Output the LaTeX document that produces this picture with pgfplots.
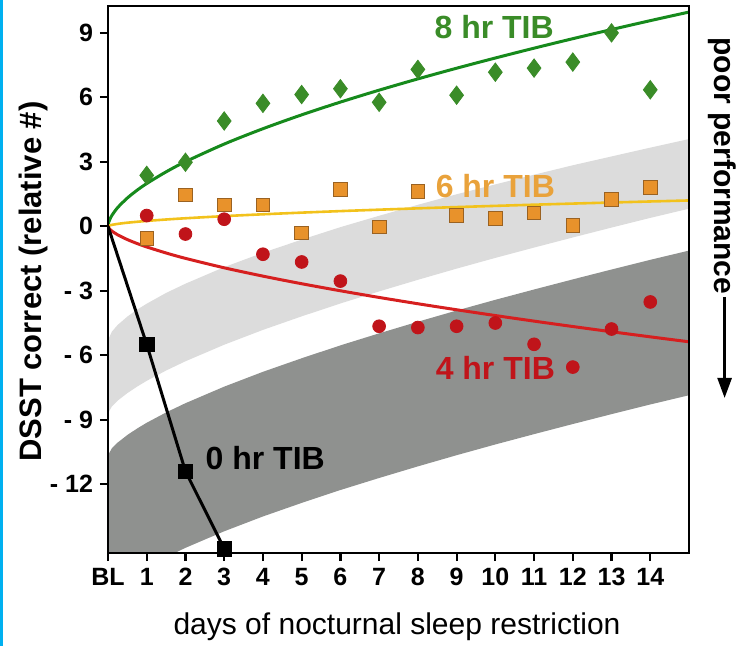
\documentclass[border=0pt]{standalone}
\usepackage{pgfplots}
\pgfplotsset{compat=1.18}
\usepgfplotslibrary{fillbetween}
\usetikzlibrary{arrows.meta}
\usepackage{fontspec}
\setmainfont{Liberation Sans}
\definecolor{lightband}{HTML}{DCDCDC}
\definecolor{darkband}{HTML}{8F918F}
\definecolor{gline}{HTML}{168A1C}
\definecolor{gmark}{HTML}{3A8C28}
\definecolor{yline}{HTML}{F2C21C}
\definecolor{omark}{HTML}{E8922B}
\definecolor{oedge}{HTML}{9A6222}
\definecolor{olabel}{HTML}{E9A23B}
\definecolor{rline}{HTML}{D61F1F}
\definecolor{rmark}{HTML}{C0141A}
\definecolor{cyanstrip}{HTML}{00B0F0}
\begin{document}
\begin{tikzpicture}
\begin{axis}[
  scale only axis, width=290.5pt, height=273.5pt,
  at={(0,0)}, anchor=south west,
  xmin=0, xmax=15, ymin=-15.2, ymax=10.25,
  xtick={0,1,2,3,4,5,6,7,8,9,10,11,12,13,14},
  xticklabels={BL,1,2,3,4,5,6,7,8,9,10,11,12,13,14},
  ytick={-12,-9,-6,-3,0,3,6,9},
  yticklabels={- 12,- 9,- 6,- 3,0,3,6,9},
  tick align=outside, tick pos=left, major tick length=4pt,
  axis line style={line width=1.2pt},
  tick style={line width=1.1pt, black},
  ticklabel style={font=\bfseries\fontsize{12.5}{12.5}\selectfont},
  axis on top,
]
% light band
\addplot[name path=U1, draw=none] coordinates {(0,-5.3)(0.1,-4.9)(0.25,-4.59)(0.5,-4.2)(0.75,-3.88)(1,-3.6)(1.5,-3.1)(2,-2.67)(3,-1.9)(4,-1.23)(5,-0.62)(6,-0.04)(7,0.49)(8,1.0)(9,1.49)(10,1.95)(11,2.4)(12,2.84)(13,3.25)(14,3.66)(15,4.06)};
\addplot[name path=L1, draw=none] coordinates {(0,-8.7)(0.1,-8.38)(0.25,-8.11)(0.5,-7.76)(0.75,-7.46)(1,-7.19)(1.5,-6.71)(2,-6.28)(3,-5.51)(4,-4.82)(5,-4.19)(6,-3.59)(7,-3.03)(8,-2.49)(9,-1.97)(10,-1.47)(11,-0.99)(12,-0.52)(13,-0.06)(14,0.39)(15,0.82)};
\addplot[fill=lightband, draw=none] fill between[of=U1 and L1];
% dark band
\addplot[name path=U2, draw=none] coordinates {(0,-10.65)(0.1,-10.33)(0.25,-10.06)(0.5,-9.71)(0.75,-9.41)(1,-9.14)(1.5,-8.66)(2,-8.23)(3,-7.46)(4,-6.77)(5,-6.14)(6,-5.54)(7,-4.98)(8,-4.44)(9,-3.92)(10,-3.42)(11,-2.94)(12,-2.47)(13,-2.01)(14,-1.56)(15,-1.13)};
\addplot[name path=L2, draw=none] coordinates {(0,-17.38)(0.1,-17.06)(0.25,-16.79)(0.5,-16.44)(0.75,-16.14)(1,-15.87)(1.5,-15.39)(2,-14.96)(3,-14.19)(4,-13.5)(5,-12.87)(6,-12.27)(7,-11.71)(8,-11.17)(9,-10.65)(10,-10.15)(11,-9.67)(12,-9.2)(13,-8.74)(14,-8.29)(15,-7.86)};
\addplot[fill=darkband, draw=none] fill between[of=U2 and L2];
% fitted curves
\addplot[gline, line width=1.5pt, smooth] coordinates {(0,0)(0.02,0.194)(0.05,0.335)(0.1,0.505)(0.25,0.872)(0.5,1.317)(0.75,1.677)(1,1.99)(1.5,2.533)(2,3.006)(3,3.826)(4,4.54)(5,5.185)(6,5.779)(7,6.334)(8,6.858)(9,7.355)(10,7.83)(11,8.288)(12,8.729)(13,9.154)(14,9.568)(15,9.968)};
\addplot[yline, line width=1.3pt, smooth] coordinates {(0,0)(0.05,0.044)(0.1,0.066)(0.25,0.112)(0.5,0.167)(1,0.25)(1.5,0.316)(2,0.374)(3,0.473)(4,0.559)(5,0.636)(6,0.707)(7,0.773)(8,0.835)(9,0.894)(10,0.95)(11,1.005)(12,1.057)(13,1.107)(14,1.155)(15,1.202)};
\addplot[rline, line width=1.5pt, smooth] coordinates {(0,0)(0.02,-0.08)(0.05,-0.143)(0.1,-0.222)(0.25,-0.397)(0.5,-0.618)(0.75,-0.8)(1,-0.96)(1.5,-1.242)(2,-1.492)(3,-1.931)(4,-2.318)(5,-2.672)(6,-3.0)(7,-3.31)(8,-3.603)(9,-3.883)(10,-4.152)(11,-4.412)(12,-4.663)(13,-4.906)(14,-5.143)(15,-5.374)};
% data
\addplot[only marks, mark=diamond*, mark size=4.6pt, gmark, mark options={draw=gmark, fill=gmark}] coordinates {(1,2.37)(2,2.98)(3,4.9)(4,5.72)(5,6.13)(6,6.4)(7,5.77)(8,7.3)(9,6.1)(10,7.17)(11,7.36)(12,7.64)(13,9.0)(14,6.35)};
\addplot[only marks, mark=square*, mark size=3.4pt, mark options={draw=oedge, fill=omark, line width=0.4pt}] coordinates {(1,-0.56)(2,1.47)(3,1.0)(4,1.0)(5,-0.3)(6,1.72)(7,-0.03)(8,1.63)(9,0.51)(10,0.37)(11,0.63)(12,0.05)(13,1.24)(14,1.81)};
\addplot[only marks, mark=*, mark size=3.2pt, mark options={draw=rmark, fill=rmark}] coordinates {(1,0.5)(2,-0.36)(3,0.33)(4,-1.3)(5,-1.66)(6,-2.55)(7,-4.65)(8,-4.71)(9,-4.65)(10,-4.5)(11,-5.49)(12,-6.55)(13,-4.78)(14,-3.52)};
\addplot[black, line width=1.5pt] coordinates {(0,0)(1,-5.5)(2,-11.4)(3,-15.0)};
\addplot[only marks, mark=square*, mark size=3.6pt, mark options={fill=black, draw=black}] coordinates {(1,-5.5)(2,-11.4)(3,-15.0)};
% labels
\node[text=gmark, font=\bfseries\fontsize{16}{16}\selectfont] at (axis cs:9.97,9.26) {8 hr TIB};
\node[text=olabel, font=\bfseries\fontsize{16}{16}\selectfont] at (axis cs:10.0,1.86) {6 hr TIB};
\node[text=rmark, font=\bfseries\fontsize{16}{16}\selectfont] at (axis cs:10.0,-6.6) {4 hr TIB};
\node[text=black, font=\bfseries\fontsize{16}{16}\selectfont] at (axis cs:4.06,-10.8) {0 hr TIB};
\end{axis}
\node[rotate=90, font=\bfseries\fontsize{15.5}{15.5}\selectfont] at (-37.5pt,135.75pt) {DSST correct (relative \#)};
\node[font=\fontsize{15}{15}\selectfont] at (144.5pt,-37pt) {days of nocturnal sleep restriction};
\node[rotate=-90, font=\bfseries\fontsize{15}{15}\selectfont] at (307pt,193.5pt) {poor performance};
\draw[line width=1.3pt, -{Triangle[width=7pt,length=10pt]}] (308.3pt,128pt) -- (308.3pt,77.5pt);
\fill[cyanstrip] (-54pt,-46.5pt) rectangle (-52.3pt,276.5pt);
\pgfresetboundingbox
\path[use as bounding box] (-54pt,-46.5pt) rectangle (322.5pt,276.5pt);
\end{tikzpicture}
\end{document}
